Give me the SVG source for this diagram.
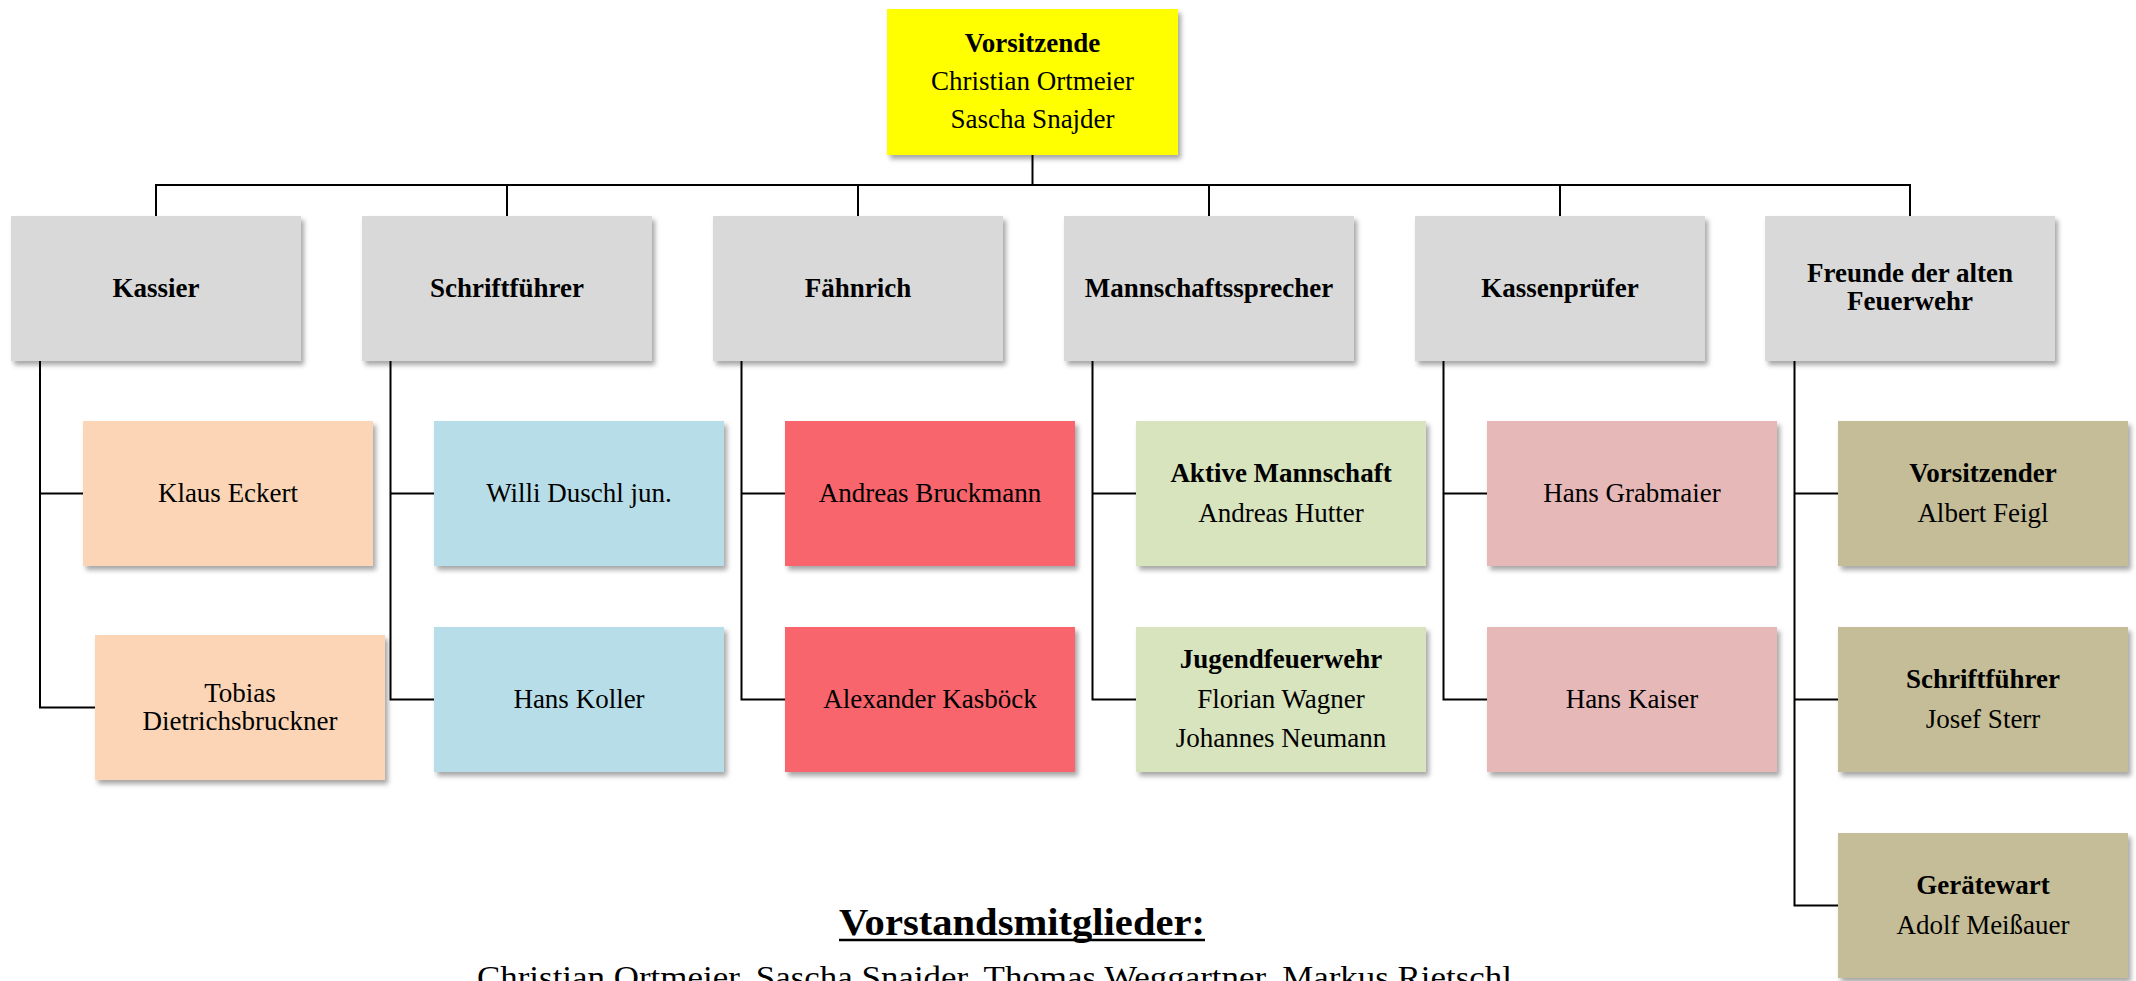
<svg xmlns="http://www.w3.org/2000/svg" width="2136" height="981" viewBox="0 0 2136 981">
<style>
  .box { stroke: none; filter: url(#sh); }
  .t { font-family: "Liberation Serif", "DejaVu Serif", serif; font-size: 27px; fill: #000; text-anchor: middle; }
  .b { font-weight: bold; }
  .conn line, .conn path { stroke: #000; stroke-width: 2; fill: none; }
  .yellow { fill: #FFFF00; }
  .grey { fill: #D9D9D9; }
  .peach { fill: #FBD5B5; }
  .blue { fill: #B7DEE8; }
  .red { fill: #F8656D; }
  .green { fill: #D7E4BD; }
  .pink { fill: #E6B9B8; }
  .khaki { fill: #C4BD97; }
</style>
<defs>
  <filter id="sh" x="-10%" y="-10%" width="120%" height="130%">
    <feDropShadow dx="3" dy="4" stdDeviation="2.5" flood-color="#000" flood-opacity="0.35"/>
  </filter>
</defs>
<rect width="2136" height="981" fill="#fff"/>

<g class="conn" id="connectors">
  <line x1="1032.5" y1="155" x2="1032.5" y2="185"/>
  <line x1="155" y1="185" x2="1911" y2="185"/>
  <line x1="156" y1="185" x2="156" y2="216"/>
  <line x1="507" y1="185" x2="507" y2="216"/>
  <line x1="858" y1="185" x2="858" y2="216"/>
  <line x1="1209" y1="185" x2="1209" y2="216"/>
  <line x1="1560" y1="185" x2="1560" y2="216"/>
  <line x1="1910" y1="185" x2="1910" y2="216"/>
  <!-- Kassier -->
  <path d="M40 361 V707.5 H95 M40 493.5 H83"/>
  <!-- Schriftfuehrer -->
  <path d="M390.5 361 V699.5 H434 M390.5 493.5 H434"/>
  <!-- Faehnrich -->
  <path d="M741.5 361 V699.5 H785 M741.5 493.5 H785"/>
  <!-- Mannschaftssprecher -->
  <path d="M1092.5 361 V699.5 H1136 M1092.5 493.5 H1136"/>
  <!-- Kassenpruefer -->
  <path d="M1443.5 361 V699.5 H1487 M1443.5 493.5 H1487"/>
  <!-- Freunde -->
  <path d="M1794.5 361 V905.5 H1838 M1794.5 493.5 H1838 M1794.5 699.5 H1838"/>
</g>

<g id="n-vorsitzende">
  <rect class="box yellow" x="887" y="9" width="291" height="146"/>
  <text class="t b" x="1032.5" y="52">Vorsitzende</text>
  <text class="t" x="1032.5" y="90">Christian Ortmeier</text>
  <text class="t" x="1032.5" y="128">Sascha Snajder</text>
</g>

<g id="n-kassier">
  <rect class="box grey" x="11" y="216" width="290" height="145"/>
  <text class="t b" x="156" y="297">Kassier</text>
</g>
<g id="n-schriftfuehrer">
  <rect class="box grey" x="362" y="216" width="290" height="145"/>
  <text class="t b" x="507" y="297">Schriftführer</text>
</g>
<g id="n-faehnrich">
  <rect class="box grey" x="713" y="216" width="290" height="145"/>
  <text class="t b" x="858" y="297">Fähnrich</text>
</g>
<g id="n-mannschaftssprecher">
  <rect class="box grey" x="1064" y="216" width="290" height="145"/>
  <text class="t b" x="1209" y="297">Mannschaftssprecher</text>
</g>
<g id="n-kassenpruefer">
  <rect class="box grey" x="1415" y="216" width="290" height="145"/>
  <text class="t b" x="1560" y="297">Kassenprüfer</text>
</g>
<g id="n-freunde">
  <rect class="box grey" x="1765" y="216" width="290" height="145"/>
  <text class="t b" x="1910" y="282">Freunde der alten</text>
  <text class="t b" x="1910" y="310">Feuerwehr</text>
</g>

<g id="n-klaus">
  <rect class="box peach" x="83" y="421" width="290" height="145"/>
  <text class="t" x="228" y="502">Klaus Eckert</text>
</g>
<g id="n-tobias">
  <rect class="box peach" x="95" y="635" width="290" height="145"/>
  <text class="t" x="240" y="702">Tobias</text>
  <text class="t" x="240" y="730">Dietrichsbruckner</text>
</g>

<g id="n-willi">
  <rect class="box blue" x="434" y="421" width="290" height="145"/>
  <text class="t" x="579" y="502">Willi Duschl jun.</text>
</g>
<g id="n-koller">
  <rect class="box blue" x="434" y="627" width="290" height="145"/>
  <text class="t" x="579" y="708">Hans Koller</text>
</g>

<g id="n-bruckmann">
  <rect class="box red" x="785" y="421" width="290" height="145"/>
  <text class="t" x="930" y="502">Andreas Bruckmann</text>
</g>
<g id="n-kasboeck">
  <rect class="box red" x="785" y="627" width="290" height="145"/>
  <text class="t" x="930" y="708">Alexander Kasböck</text>
</g>

<g id="n-aktive">
  <rect class="box green" x="1136" y="421" width="290" height="145"/>
  <text class="t b" x="1281" y="482">Aktive Mannschaft</text>
  <text class="t" x="1281" y="522">Andreas Hutter</text>
</g>
<g id="n-jugend">
  <rect class="box green" x="1136" y="627" width="290" height="145"/>
  <text class="t b" x="1281" y="668">Jugendfeuerwehr</text>
  <text class="t" x="1281" y="708">Florian Wagner</text>
  <text class="t" x="1281" y="747">Johannes Neumann</text>
</g>

<g id="n-grabmaier">
  <rect class="box pink" x="1487" y="421" width="290" height="145"/>
  <text class="t" x="1632" y="502">Hans Grabmaier</text>
</g>
<g id="n-kaiser">
  <rect class="box pink" x="1487" y="627" width="290" height="145"/>
  <text class="t" x="1632" y="708">Hans Kaiser</text>
</g>

<g id="n-feigl">
  <rect class="box khaki" x="1838" y="421" width="290" height="145"/>
  <text class="t b" x="1983" y="482">Vorsitzender</text>
  <text class="t" x="1983" y="522">Albert Feigl</text>
</g>
<g id="n-sterr">
  <rect class="box khaki" x="1838" y="627" width="290" height="145"/>
  <text class="t b" x="1983" y="688">Schriftführer</text>
  <text class="t" x="1983" y="728">Josef Sterr</text>
</g>
<g id="n-meissauer">
  <rect class="box khaki" x="1838" y="833" width="290" height="145"/>
  <text class="t b" x="1983" y="894">Gerätewart</text>
  <text class="t" x="1983" y="934">Adolf Meißauer</text>
</g>

<g id="footer">
  <text class="t b" x="1022" y="935" style="font-size:37px" textLength="366" lengthAdjust="spacingAndGlyphs">Vorstandsmitglieder:</text>
  <line x1="839" y1="940" x2="1205" y2="940" stroke="#000" stroke-width="2.5"/>
  <text class="t" x="994.5" y="988" style="font-size:31px" textLength="1035" lengthAdjust="spacingAndGlyphs">Christian Ortmeier, Sascha Snajder, Thomas Weggartner, Markus Rietschl</text>
</g>
</svg>
